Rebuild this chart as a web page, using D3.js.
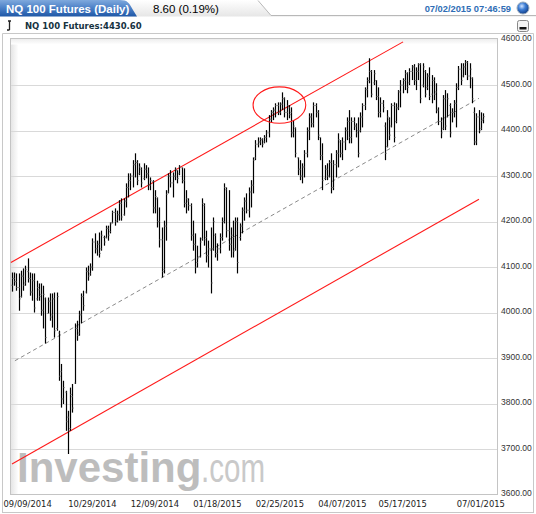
<!DOCTYPE html>
<html><head><meta charset="utf-8">
<script src="https://cdn.jsdelivr.net/npm/d3@7/dist/d3.min.js"></script>
<style>html,body{margin:0;padding:0;background:#fff;}svg{display:block;}</style>
</head><body>
<script>
const title = "NQ 100 Futures (Daily)";
const changeText = "8.60 (0.19%)";
const stampText = "07/02/2015 07:46:59";
const legendText = "NQ 100 Futures:4430.60";

const yTicks = [3600, 3700, 3800, 3900, 4000, 4100, 4200, 4300, 4400, 4500, 4600];
const xTickLabels = ["09/09/2014","10/29/2014","12/09/2014","01/18/2015","02/25/2015","04/07/2015","05/17/2015","07/01/2015"];
const xTickBars = [7, 36, 64, 92, 120, 148, 175, 210];

const highs = [
4088,4088,4086,4086,4092,4097,4103,4119,4088,4086,
4086,4070,4064,4064,4059,4033,4033,4042,4042,4044,
4044,3960,3887,3850,3828,3784,3835,3843,3976,3982,
4004,4042,4048,4099,4103,4108,4163,4174,4158,4176,
4180,4169,4191,4191,4198,4224,4229,4224,4247,4251,
4251,4284,4306,4306,4335,4350,4335,4328,4319,4328,
4324,4319,4297,4291,4269,4253,4231,4187,4202,4269,
4306,4313,4308,4319,4313,4324,4319,4317,4269,4251,
4240,4202,4174,4147,4165,4251,4240,4180,4158,4187,
4209,4174,4152,4174,4209,4284,4275,4269,4187,4202,
4209,4209,4196,4231,4253,4262,4275,4291,4341,4379,
4385,4385,4383,4390,4401,4434,4445,4451,4460,4462,
4462,4484,4473,4467,4456,4451,4423,4407,4341,4335,
4328,4357,4407,4438,4438,4462,4460,4445,4385,4372,
4324,4328,4335,4350,4335,4357,4394,4379,4385,4407,
4429,4445,4429,4429,4416,4429,4440,4460,4495,4517,
4559,4533,4533,4511,4495,4473,4467,4418,4445,4429,
4460,4462,4460,4489,4511,4515,4533,4528,4537,4544,
4546,4539,4548,4548,4548,4533,4526,4539,4522,4517,
4504,4451,4429,4478,4489,4482,4460,4449,4467,4504,
4542,4548,4548,4555,4553,4548,4517,4451,4438,4445,
4440,4438];
const lows = [
4046,4059,4048,4004,4033,4048,4059,4066,4037,4026,
4000,4026,4026,3993,3965,3932,3998,3982,3967,3945,
3960,3850,3791,3799,3740,3689,3740,3780,3843,3938,
3949,3976,4004,4042,4070,4081,4092,4130,4125,4121,
4136,4147,4163,4158,4174,4196,4191,4198,4202,4202,
4213,4231,4253,4269,4275,4297,4280,4302,4275,4291,
4295,4269,4269,4218,4218,4187,4143,4077,4086,4158,
4262,4275,4253,4291,4284,4302,4284,4231,4218,4224,
4158,4136,4086,4099,4121,4158,4147,4110,4099,4042,
4136,4121,4114,4130,4158,4196,4165,4136,4121,4121,
4136,4086,4158,4174,4202,4218,4209,4231,4262,4335,
4363,4368,4363,4372,4374,4385,4418,4423,4429,4434,
4434,4445,4429,4423,4427,4385,4385,4341,4302,4291,
4284,4297,4341,4379,4407,4407,4429,4379,4335,4269,
4291,4291,4297,4262,4269,4297,4319,4341,4335,4357,
4379,4372,4372,4401,4385,4341,4396,4407,4445,4473,
4504,4473,4500,4467,4429,4429,4440,4335,4363,4379,
4407,4374,4416,4445,4451,4482,4489,4482,4500,4511,
4500,4489,4511,4460,4495,4473,4489,4467,4460,4467,
4438,4412,4383,4401,4401,4429,4385,4418,4429,4407,
4489,4500,4517,4522,4511,4493,4460,4368,4368,4394,
4401,4416];
const opens = [
4060,4075,4068,4055,4035,4080,4065,4090,4075,4045,
4070,4030,4050,4040,4005,4030,3998,4025,3995,4030,
3965,3955,3870,3810,3825,3770,3745,3815,3845,3965,
3955,3995,4035,4045,4090,4085,4100,4155,4140,4150,
4140,4165,4165,4185,4178,4198,4220,4202,4215,4240,
4215,4245,4275,4290,4300,4325,4330,4305,4315,4295,
4315,4305,4280,4288,4230,4250,4200,4160,4095,4190,
4265,4300,4285,4300,4312,4305,4318,4290,4240,4245,
4235,4170,4150,4110,4122,4162,4235,4165,4125,4140,
4140,4170,4130,4140,4165,4200,4270,4180,4150,4165,
4140,4200,4165,4190,4225,4245,4225,4265,4280,4340,
4370,4375,4380,4375,4385,4395,4425,4440,4445,4455,
4440,4458,4470,4440,4450,4440,4395,4405,4340,4315,
4300,4320,4350,4400,4430,4415,4455,4440,4385,4345,
4295,4315,4300,4330,4275,4325,4350,4375,4350,4375,
4400,4420,4385,4420,4410,4400,4400,4430,4455,4490,
4510,4530,4505,4510,4475,4440,4460,4410,4365,4425,
4410,4455,4420,4450,4485,4500,4510,4525,4505,4530,
4540,4510,4530,4545,4500,4530,4495,4520,4480,4510,
4485,4445,4420,4405,4470,4430,4455,4440,4440,4460,
4495,4535,4520,4540,4550,4520,4515,4440,4375,4430,
4405,4425];
const closes = [
4075,4068,4055,4030,4080,4060,4095,4075,4045,4070,
4010,4055,4035,4005,4040,3945,4025,3990,4030,3960,
4035,3860,3810,3835,3760,3740,3820,3790,3965,3950,
3995,4035,4015,4090,4080,4100,4155,4140,4150,4130,
4170,4155,4185,4170,4195,4220,4200,4215,4240,4210,
4245,4275,4290,4300,4325,4330,4290,4320,4285,4315,
4305,4280,4290,4230,4255,4200,4160,4090,4190,4260,
4300,4285,4300,4315,4295,4320,4290,4240,4250,4235,
4170,4150,4100,4120,4155,4240,4160,4125,4140,4065,
4200,4130,4140,4165,4200,4275,4180,4150,4170,4135,
4200,4110,4190,4225,4245,4225,4265,4280,4335,4370,
4375,4380,4370,4385,4395,4425,4440,4445,4455,4440,
4458,4470,4440,4455,4435,4395,4410,4350,4315,4300,
4320,4350,4400,4430,4415,4455,4440,4390,4345,4290,
4315,4300,4330,4275,4325,4350,4380,4350,4375,4400,
4420,4385,4420,4410,4395,4350,4430,4455,4490,4510,
4530,4480,4525,4475,4440,4460,4450,4350,4430,4390,
4455,4385,4450,4485,4500,4510,4525,4495,4530,4540,
4510,4530,4545,4470,4540,4480,4520,4475,4510,4480,
4445,4420,4395,4470,4410,4470,4395,4440,4460,4495,
4535,4510,4540,4550,4520,4535,4470,4375,4430,4400,
4422,4430.6];

// trend lines: [bar index, price]
const upperChannel = [[-0.5, 4110], [175.2, 4595]];
const lowerChannel = [[0, 3667], [209.2, 4249]];
const midChannel = [[1.3, 3894], [209.2, 4471]];
// highlighted area: centre bar, centre price, half-width in bars, half-height in price
const circleMark = {bar: 119.8, price: 4456, rBars: 11.8, rPrice: 40};

const W = 536, H = 514;
const plot = {left: 10.5, right: 497.5, top: 38.5, bottom: 494.5};

const svg = d3.select("body").append("svg").attr("width", W).attr("height", H)
  .style("font-family", "'Liberation Sans', Arial, sans-serif");
const defs = svg.append("defs");

function grad(id, x2, y2, stops) {
  const g = defs.append("linearGradient").attr("id", id)
    .attr("x1", 0).attr("y1", 0).attr("x2", x2).attr("y2", y2);
  stops.forEach(s => g.append("stop").attr("offset", s[0]).attr("stop-color", s[1]));
}
grad("tabG", 0, 1, [[0, "#7fa9dd"], [0.5, "#4a7fc6"], [1, "#1f57a6"]]);
grad("hdrG", 0, 1, [[0, "#ffffff"], [1, "#e6e6e6"]]);
grad("shL", 1, 0, [[0, "#e4e4e4"], [1, "#ffffff"]]);
grad("shT", 0, 1, [[0, "#ececec"], [1, "#ffffff"]]);
const rg = defs.append("radialGradient").attr("id", "ball").attr("cx", 0.4).attr("cy", 0.35).attr("r", 0.65);
rg.append("stop").attr("offset", 0).attr("stop-color", "#cfe3ff");
rg.append("stop").attr("offset", 0.45).attr("stop-color", "#3f7fd6");
rg.append("stop").attr("offset", 1).attr("stop-color", "#123f8a");

// header
svg.append("path").attr("d", "M128,0 L258,0 L271,15.5 L536,15.5 L536,16.5 L128,16.5 Z").attr("fill", "url(#hdrG)");
svg.append("path").attr("d", "M258,0.5 L271,15.5 L536,15.5").attr("fill", "none").attr("stroke", "#b8b8b8");
svg.append("path").attr("d", "M0,0 L120,0 C128,0 129,3 133,10 L137,16.5 L0,16.5 Z").attr("fill", "url(#tabG)");
svg.append("text").attr("x", 6).attr("y", 12.5).attr("fill", "#fff").attr("font-weight", "bold")
  .attr("font-size", 11.5).text(title);
svg.append("text").attr("x", 153).attr("y", 12.5).attr("fill", "#000").attr("font-size", 11.5).text(changeText);
svg.append("text").attr("x", 511).attr("y", 12).attr("text-anchor", "end").attr("fill", "#2f6db5")
  .attr("font-weight", "bold").attr("font-size", 9.3).text(stampText);
svg.append("circle").attr("cx", 523).attr("cy", 8).attr("r", 6).attr("fill", "url(#ball)").attr("stroke", "#9ab", "stroke-width", 0.5);

// legend row
svg.append("path").attr("d", "M8,21 L11,21 M9.5,21 V30 M7,30 H9.5").attr("stroke", "#222").attr("stroke-width", 1.3).attr("fill", "none");
svg.append("text").attr("x", 25).attr("y", 29).attr("fill", "#16323f").attr("font-weight", "bold")
  .attr("font-family", "'DejaVu Sans', Verdana, sans-serif").attr("font-size", 8.5).text(legendText);
// minus button
svg.append("rect").attr("x", 517.5).attr("y", 20.5).attr("width", 11).attr("height", 11).attr("rx", 2)
  .attr("fill", "#f4f4f4").attr("stroke", "#888");
svg.append("rect").attr("x", 519.5).attr("y", 27).attr("width", 7).attr("height", 2.5).attr("fill", "#111");

// panel frame
svg.append("path").attr("d", "M2.5,512 V33.5 H533.5 V512").attr("fill", "none").attr("stroke", "#c8c8c8");
svg.append("line").attr("x1", 2).attr("x2", 534).attr("y1", 512.5).attr("y2", 512.5).attr("stroke", "#c8c8c8");

// plot background
svg.append("rect").attr("x", plot.left).attr("y", plot.top).attr("width", plot.right - plot.left)
  .attr("height", plot.bottom - plot.top).attr("fill", "#fff");
svg.append("rect").attr("x", plot.left).attr("y", plot.top).attr("width", 8)
  .attr("height", plot.bottom - plot.top).attr("fill", "url(#shL)");
svg.append("rect").attr("x", plot.left).attr("y", plot.top).attr("width", plot.right - plot.left)
  .attr("height", 6).attr("fill", "url(#shT)");

const y = d3.scaleLinear().domain([3600, 4600]).range([494.5, 39.6]);
const x = d3.scaleLinear().domain([0, highs.length - 1]).range([12, 483]);

// grid
svg.append("g").selectAll("line").data(yTicks.slice(1, -1)).join("line")
  .attr("x1", plot.left).attr("x2", plot.right)
  .attr("y1", d => Math.round(y(d)) + 0.5).attr("y2", d => Math.round(y(d)) + 0.5)
  .attr("stroke", "#d9d9d9");

// watermark
const wm = svg.append("g");
wm.append("text").attr("x", 17).attr("y", 482).attr("font-size", 42).attr("font-weight", "bold")
  .attr("fill", "#bdbdbd").text("Investing");
wm.append("text").attr("x", 201).attr("y", 482).attr("font-size", 40)
  .attr("fill", "#c9c9c9").attr("textLength", 64).attr("lengthAdjust", "spacingAndGlyphs").text(".com");

// plot border
svg.append("rect").attr("x", plot.left).attr("y", plot.top).attr("width", plot.right - plot.left)
  .attr("height", plot.bottom - plot.top).attr("fill", "none").attr("stroke", "#c4c4c4");

// y axis labels
svg.append("g").selectAll("text").data(yTicks).join("text")
  .attr("x", 501).attr("y", d => y(d) - 1).attr("dy", "0.32em")
  .attr("font-size", 8.5).attr("fill", "#333").text(d => d3.format(".2f")(d));

// x axis labels
svg.append("g").selectAll("text").data(xTickLabels).join("text")
  .attr("x", (d, i) => x(xTickBars[i])).attr("y", 507).attr("text-anchor", "middle")
  .attr("font-family", "'DejaVu Sans', Verdana, sans-serif")
  .attr("font-size", 8.4).attr("fill", "#222").text(d => d);

// channel lines
const lineGen = d3.line().x(d => x(d[0])).y(d => y(d[1]));
svg.append("path").attr("d", lineGen(upperChannel)).attr("stroke", "#ff1a1a").attr("stroke-width", 1.1).attr("fill", "none");
svg.append("path").attr("d", lineGen(lowerChannel)).attr("stroke", "#ff1a1a").attr("stroke-width", 1.1).attr("fill", "none");
svg.append("path").attr("d", lineGen(midChannel)).attr("stroke", "#8a8a8a").attr("stroke-width", 1)
  .attr("stroke-dasharray", "4,3").attr("fill", "none");

// OHLC bars
const bars = svg.append("g");
highs.forEach((h, i) => {
  const cx = Math.round(x(i)) + 0.5;
  bars.append("line").attr("x1", cx).attr("x2", cx).attr("y1", y(h)).attr("y2", y(lows[i]))
    .attr("stroke", "#000").attr("stroke-width", 1.2);
  bars.append("line").attr("x1", cx - 1.2).attr("x2", cx).attr("y1", y(opens[i])).attr("y2", y(opens[i]))
    .attr("stroke", "#777").attr("stroke-width", 1);
  bars.append("line").attr("x1", cx).attr("x2", cx + 1.2).attr("y1", y(closes[i])).attr("y2", y(closes[i]))
    .attr("stroke", "#777").attr("stroke-width", 1);
});

// circle highlight
svg.append("ellipse").attr("cx", x(circleMark.bar)).attr("cy", y(circleMark.price))
  .attr("rx", x(circleMark.rBars) - x(0)).attr("ry", y(4000) - y(4000 + circleMark.rPrice))
  .attr("fill", "none").attr("stroke", "#ff1a1a").attr("stroke-width", 1.1);
</script>
</body></html>
